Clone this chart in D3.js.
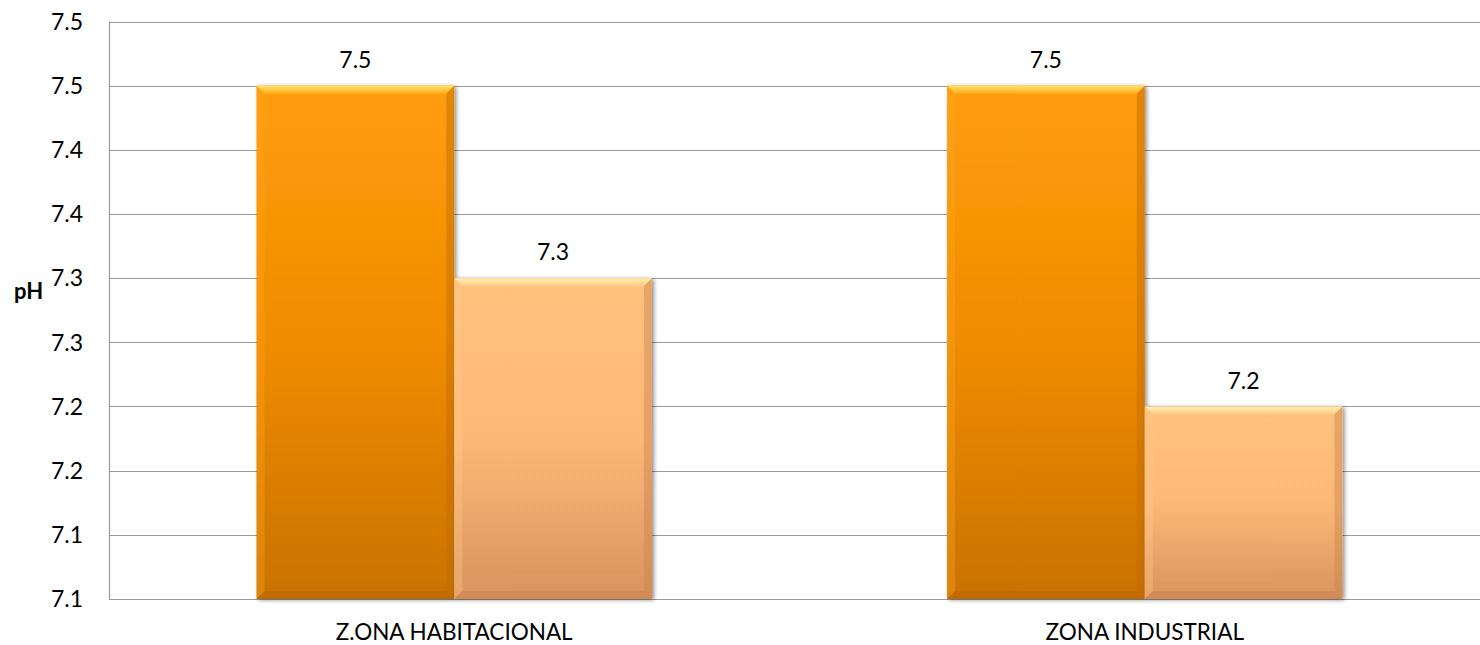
<!DOCTYPE html>
<html>
<head>
<meta charset="utf-8">
<script src="https://cdn.jsdelivr.net/npm/d3@7"></script>
<style>
  html, body { margin: 0; padding: 0; background: #fff; }
  svg { display: block; font-family: Lato, "Open Sans", sans-serif; }
</style>
</head>
<body>
<svg id="chart" width="1480" height="645"></svg>
<script>
// ---- data ----
const categories = ["Z.ONA HABITACIONAL", "ZONA INDUSTRIAL"];
const seriesNames = ["Serie 1", "Serie 2"];
const series1Values = [7.45, 7.45];
const series2Values = [7.30, 7.20];
const series1Labels = ["7.5", "7.5"];
const series2Labels = ["7.3", "7.2"];
const tickValues = [7.05, 7.10, 7.15, 7.20, 7.25, 7.30, 7.35, 7.40, 7.45, 7.50];
const tickLabels = ["7.1", "7.1", "7.2", "7.2", "7.3", "7.3", "7.4", "7.4", "7.5", "7.5"];
const yTitle = "pH";

// ---- layout ----
const svg = d3.select("#chart");
const plot = { left: 109, right: 1490, top: 21.5, bottom: 599 };

const y = d3.scaleLinear().domain([7.05, 7.50]).range([plot.bottom, plot.top]);
const x = d3.scaleBand().domain(categories).range([plot.left, plot.right]).padding(0);
const groupW = x.bandwidth() * 0.5726;
const xs = d3.scaleBand().domain(seriesNames).range([0, groupW]).padding(0);

const data = [];
categories.forEach((c, i) => {
  data.push({ cat: c, s: seriesNames[0], v: series1Values[i], label: series1Labels[i], k: 0 });
  data.push({ cat: c, s: seriesNames[1], v: series2Values[i], label: series2Labels[i], k: 1 });
});

const defs = svg.append("defs");
const palettes = [
  { top: "#ff9d0c", mid: "#f08c00", bot: "#c97200", bevTop: ["#ffe46a", "#ffad1a"], left: "#ffa522", right: "#c06a00", bottom: "#b86400" },
  { top: "#ffc27d", mid: "#fcb878", bot: "#d9935c", bevTop: ["#fff0b0", "#ffcb85"], left: "#ffc98a", right: "#c98450", bottom: "#c9854f" }
];
palettes.forEach((p, i) => {
  const g = defs.append("linearGradient").attr("id", "body" + i).attr("x1", 0).attr("y1", 0).attr("x2", 0).attr("y2", 1);
  g.append("stop").attr("offset", "0%").attr("stop-color", p.top);
  g.append("stop").attr("offset", "50%").attr("stop-color", p.mid);
  g.append("stop").attr("offset", "100%").attr("stop-color", p.bot);
  const t = defs.append("linearGradient").attr("id", "bev" + i).attr("x1", 0).attr("y1", 0).attr("x2", 0).attr("y2", 1);
  t.append("stop").attr("offset", "0%").attr("stop-color", p.bevTop[0]);
  t.append("stop").attr("offset", "100%").attr("stop-color", p.bevTop[1]);
});
const shadow = defs.append("filter").attr("id", "shadow").attr("x", "-10%").attr("y", "-10%").attr("width", "130%").attr("height", "130%");
shadow.append("feGaussianBlur").attr("in", "SourceAlpha").attr("stdDeviation", 2).attr("result", "b");
shadow.append("feOffset").attr("in", "b").attr("dx", 2).attr("dy", 1).attr("result", "o");
shadow.append("feComponentTransfer").attr("in", "o").attr("result", "s")
  .append("feFuncA").attr("type", "linear").attr("slope", 0.45);
const fm = shadow.append("feMerge");
fm.append("feMergeNode").attr("in", "s");
fm.append("feMergeNode").attr("in", "SourceGraphic");

// ---- grid ----
svg.append("g").selectAll("line").data(tickValues).join("line")
  .attr("x1", plot.left).attr("x2", plot.right)
  .attr("y1", d => Math.round(y(d)) + 0.5).attr("y2", d => Math.round(y(d)) + 0.5)
  .attr("stroke", "#9a9a9a").attr("stroke-width", 1.2);
svg.append("line").attr("x1", plot.left + 0.5).attr("x2", plot.left + 0.5)
  .attr("y1", y(7.50)).attr("y2", y(7.05)).attr("stroke", "#9a9a9a").attr("stroke-width", 1.2);

// ---- y tick labels ----
svg.append("g").selectAll("text").data(tickValues).join("text")
  .attr("x", 83).attr("y", d => y(d)).attr("dy", "0.36em")
  .attr("text-anchor", "end").attr("font-size", 23).attr("fill", "#000")
  .text((d, i) => tickLabels[i]);

svg.append("text").attr("x", 14).attr("y", 299).attr("font-size", 22).attr("font-weight", "bold").text(yTitle);

// ---- bars ----
const bv = 8;
const bars = svg.append("g").selectAll("g.bar").data(data).join("g").attr("class", "bar");
bars.each(function(d) {
  const g = d3.select(this);
  const x0 = x(d.cat) + (x.bandwidth() - groupW) / 2 + xs(d.s);
  const w = xs.bandwidth();
  const y0 = y(d.v), y1 = y(7.05), h = y1 - y0;
  const p = palettes[d.k];
  const x1 = x0 + w;
  g.append("rect").attr("x", x0).attr("y", y0).attr("width", w).attr("height", h)
    .attr("fill", `url(#body${d.k})`).attr("filter", "url(#shadow)");
  // bevels
  g.append("polygon").attr("points", [[x0, y0], [x1, y0], [x1 - bv, y0 + bv], [x0 + bv, y0 + bv]].join(" "))
    .attr("fill", `url(#bev${d.k})`);
  g.append("polygon").attr("points", [[x0, y0], [x0 + bv, y0 + bv], [x0 + bv, y1 - bv], [x0, y1]].join(" "))
    .attr("fill", p.left).attr("opacity", 0.35);
  g.append("polygon").attr("points", [[x1, y0], [x1 - bv, y0 + bv], [x1 - bv, y1 - bv], [x1, y1]].join(" "))
    .attr("fill", p.right).attr("opacity", 0.45);
  g.append("polygon").attr("points", [[x0, y1], [x0 + bv, y1 - bv], [x1 - bv, y1 - bv], [x1, y1]].join(" "))
    .attr("fill", p.bottom).attr("opacity", 0.5);
  g.append("text").attr("x", x0 + w / 2).attr("y", y0 - 26).attr("dy", "0.36em")
    .attr("text-anchor", "middle").attr("font-size", 23).attr("fill", "#000").text(d.label);
});

// ---- category labels ----
svg.append("g").selectAll("text").data(categories).join("text")
  .attr("x", d => x(d) + x.bandwidth() / 2).attr("y", 640)
  .attr("text-anchor", "middle").attr("font-size", 22.5).attr("fill", "#000").text(d => d);
</script>
</body>
</html>
